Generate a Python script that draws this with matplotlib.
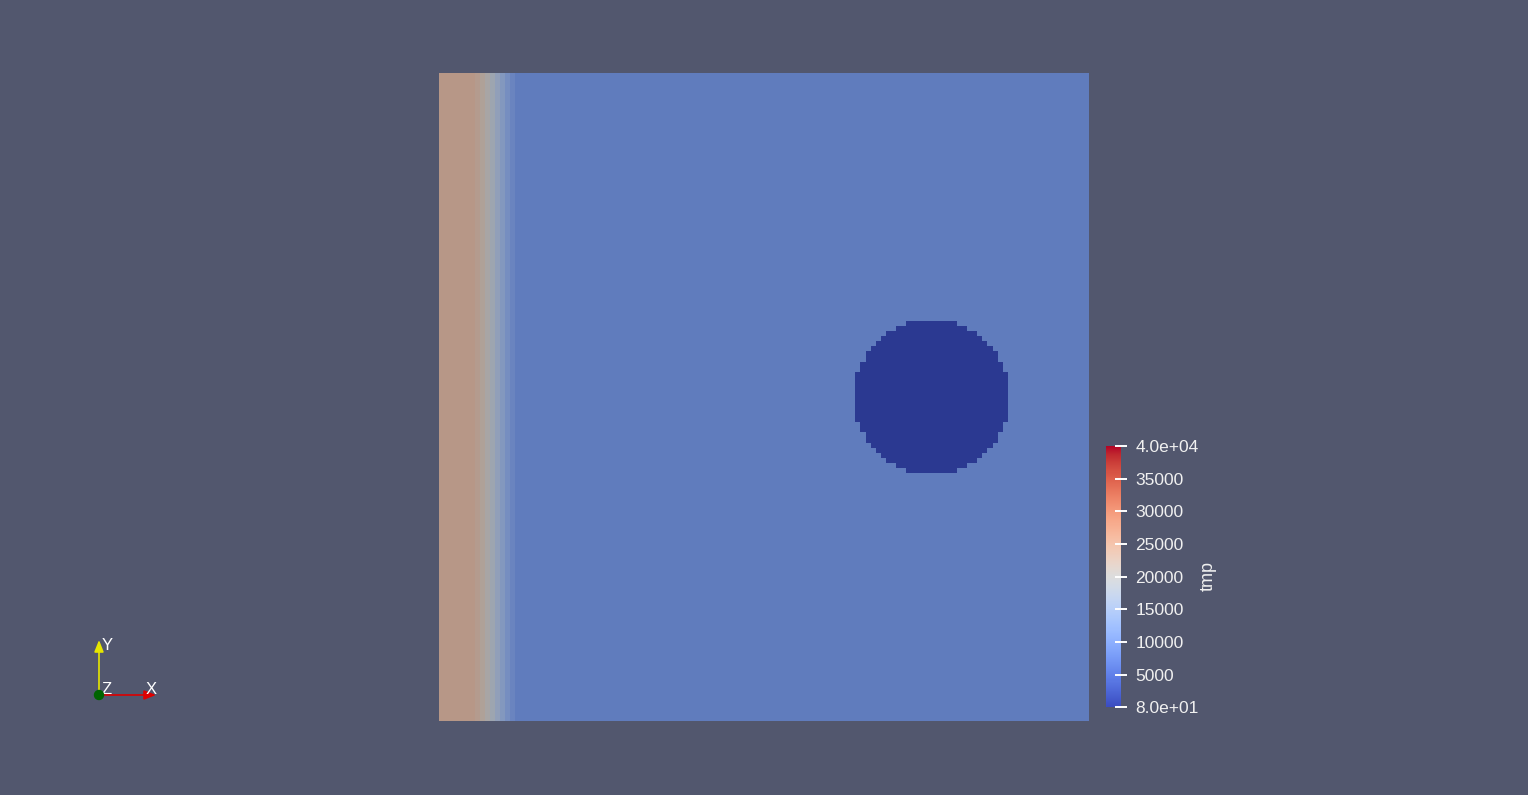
import numpy as np
import matplotlib
matplotlib.use("Agg")
import matplotlib.pyplot as plt
from matplotlib.colors import Normalize
from matplotlib.patches import Rectangle, Circle
import matplotlib.cm as cm

# ---- data ----
nx, ny = 128, 128
vmin, vmax = 80.0, 40000.0
left_profile = [24300, 24300, 24300, 24300, 24300, 24300, 24300,
                23400, 22000, 20200, 18200, 16000, 13900, 11900, 10200]
background_value = 8700.0
circle_value = 80.0
circle_center = (97.0, 64.0)   # cell units (x, y from top)
circle_radius = 15.3
cbar_ticks = [80, 5000, 10000, 15000, 20000, 25000, 30000, 35000, 40000]
cbar_labels = ["8.0e+01", "5000", "10000", "15000", "20000", "25000",
               "30000", "35000", "4.0e+04"]
cbar_title = "tmp"

# build field
field = np.full((ny, nx), background_value)
for i, v in enumerate(left_profile):
    field[:, i] = v
jj, ii = np.mgrid[0:ny, 0:nx]
mask = (ii + 0.5 - circle_center[0]) ** 2 + (jj + 0.5 - circle_center[1]) ** 2 <= circle_radius ** 2
field[mask] = circle_value

W, H = 1528, 795
BG = "#52576E"
fig = plt.figure(figsize=(W / 100, H / 100), dpi=100, facecolor=BG)

def fax(x0, y0, x1, y1):
    return fig.add_axes([x0 / W, 1 - y1 / H, (x1 - x0) / W, (y1 - y0) / H])

# main field
ax = fax(439, 73, 1089, 721)
norm = Normalize(vmin, vmax)
ax.imshow(field, cmap="coolwarm", norm=norm, interpolation="nearest",
          extent=(0, nx, ny, 0), aspect="auto")
ax.add_patch(Rectangle((0, 0), nx, ny, facecolor="black", alpha=0.245,
                       edgecolor="none"))
ax.set_xlim(0, nx)
ax.set_ylim(ny, 0)
ax.axis("off")

# colorbar
cax = fax(1106, 446, 1121, 707)
sm = cm.ScalarMappable(norm=norm, cmap="coolwarm")
cb = fig.colorbar(sm, cax=cax, ticks=cbar_ticks)
cb.outline.set_visible(False)
cb.ax.set_yticklabels(cbar_labels)
cb.ax.tick_params(colors="white", labelcolor="#F0F0F0", length=8.5, width=1.4,
                  pad=6, labelsize=12.5, direction="inout")
for t in cb.ax.get_yticklabels():
    t.set_fontfamily("Liberation Sans")
fig.text(1208 / W, 1 - 576 / H, cbar_title, rotation=90, color="#F0F0F0",
         fontsize=13, family="Liberation Sans", ha="center", va="center")

# axes triad
tax = fig.add_axes([0, 0, 1, 1], facecolor="none")
tax.set_xlim(0, W)
tax.set_ylim(H, 0)
tax.axis("off")
ox, oy = 99, 695
tax.annotate("", xy=(ox, 640), xytext=(ox, oy),
             arrowprops=dict(arrowstyle="-|>,head_length=0.7,head_width=0.28",
                             color="#E6E600", lw=1.2, shrinkA=0, shrinkB=0))
tax.annotate("", xy=(156, oy), xytext=(ox, oy),
             arrowprops=dict(arrowstyle="-|>,head_length=0.7,head_width=0.28",
                             color="#DD0000", lw=1.2, shrinkA=0, shrinkB=0))
tax.add_patch(Circle((ox, oy), 4.5, color="#006400", zorder=5))
for s, x, y in [("Y", 107, 646), ("X", 151, 690), ("Z", 107, 689)]:
    tax.text(x, y, s, color="white", fontsize=12, family="Liberation Sans",
             ha="center", va="center")

fig.savefig("out.png", dpi=100, facecolor=BG)
